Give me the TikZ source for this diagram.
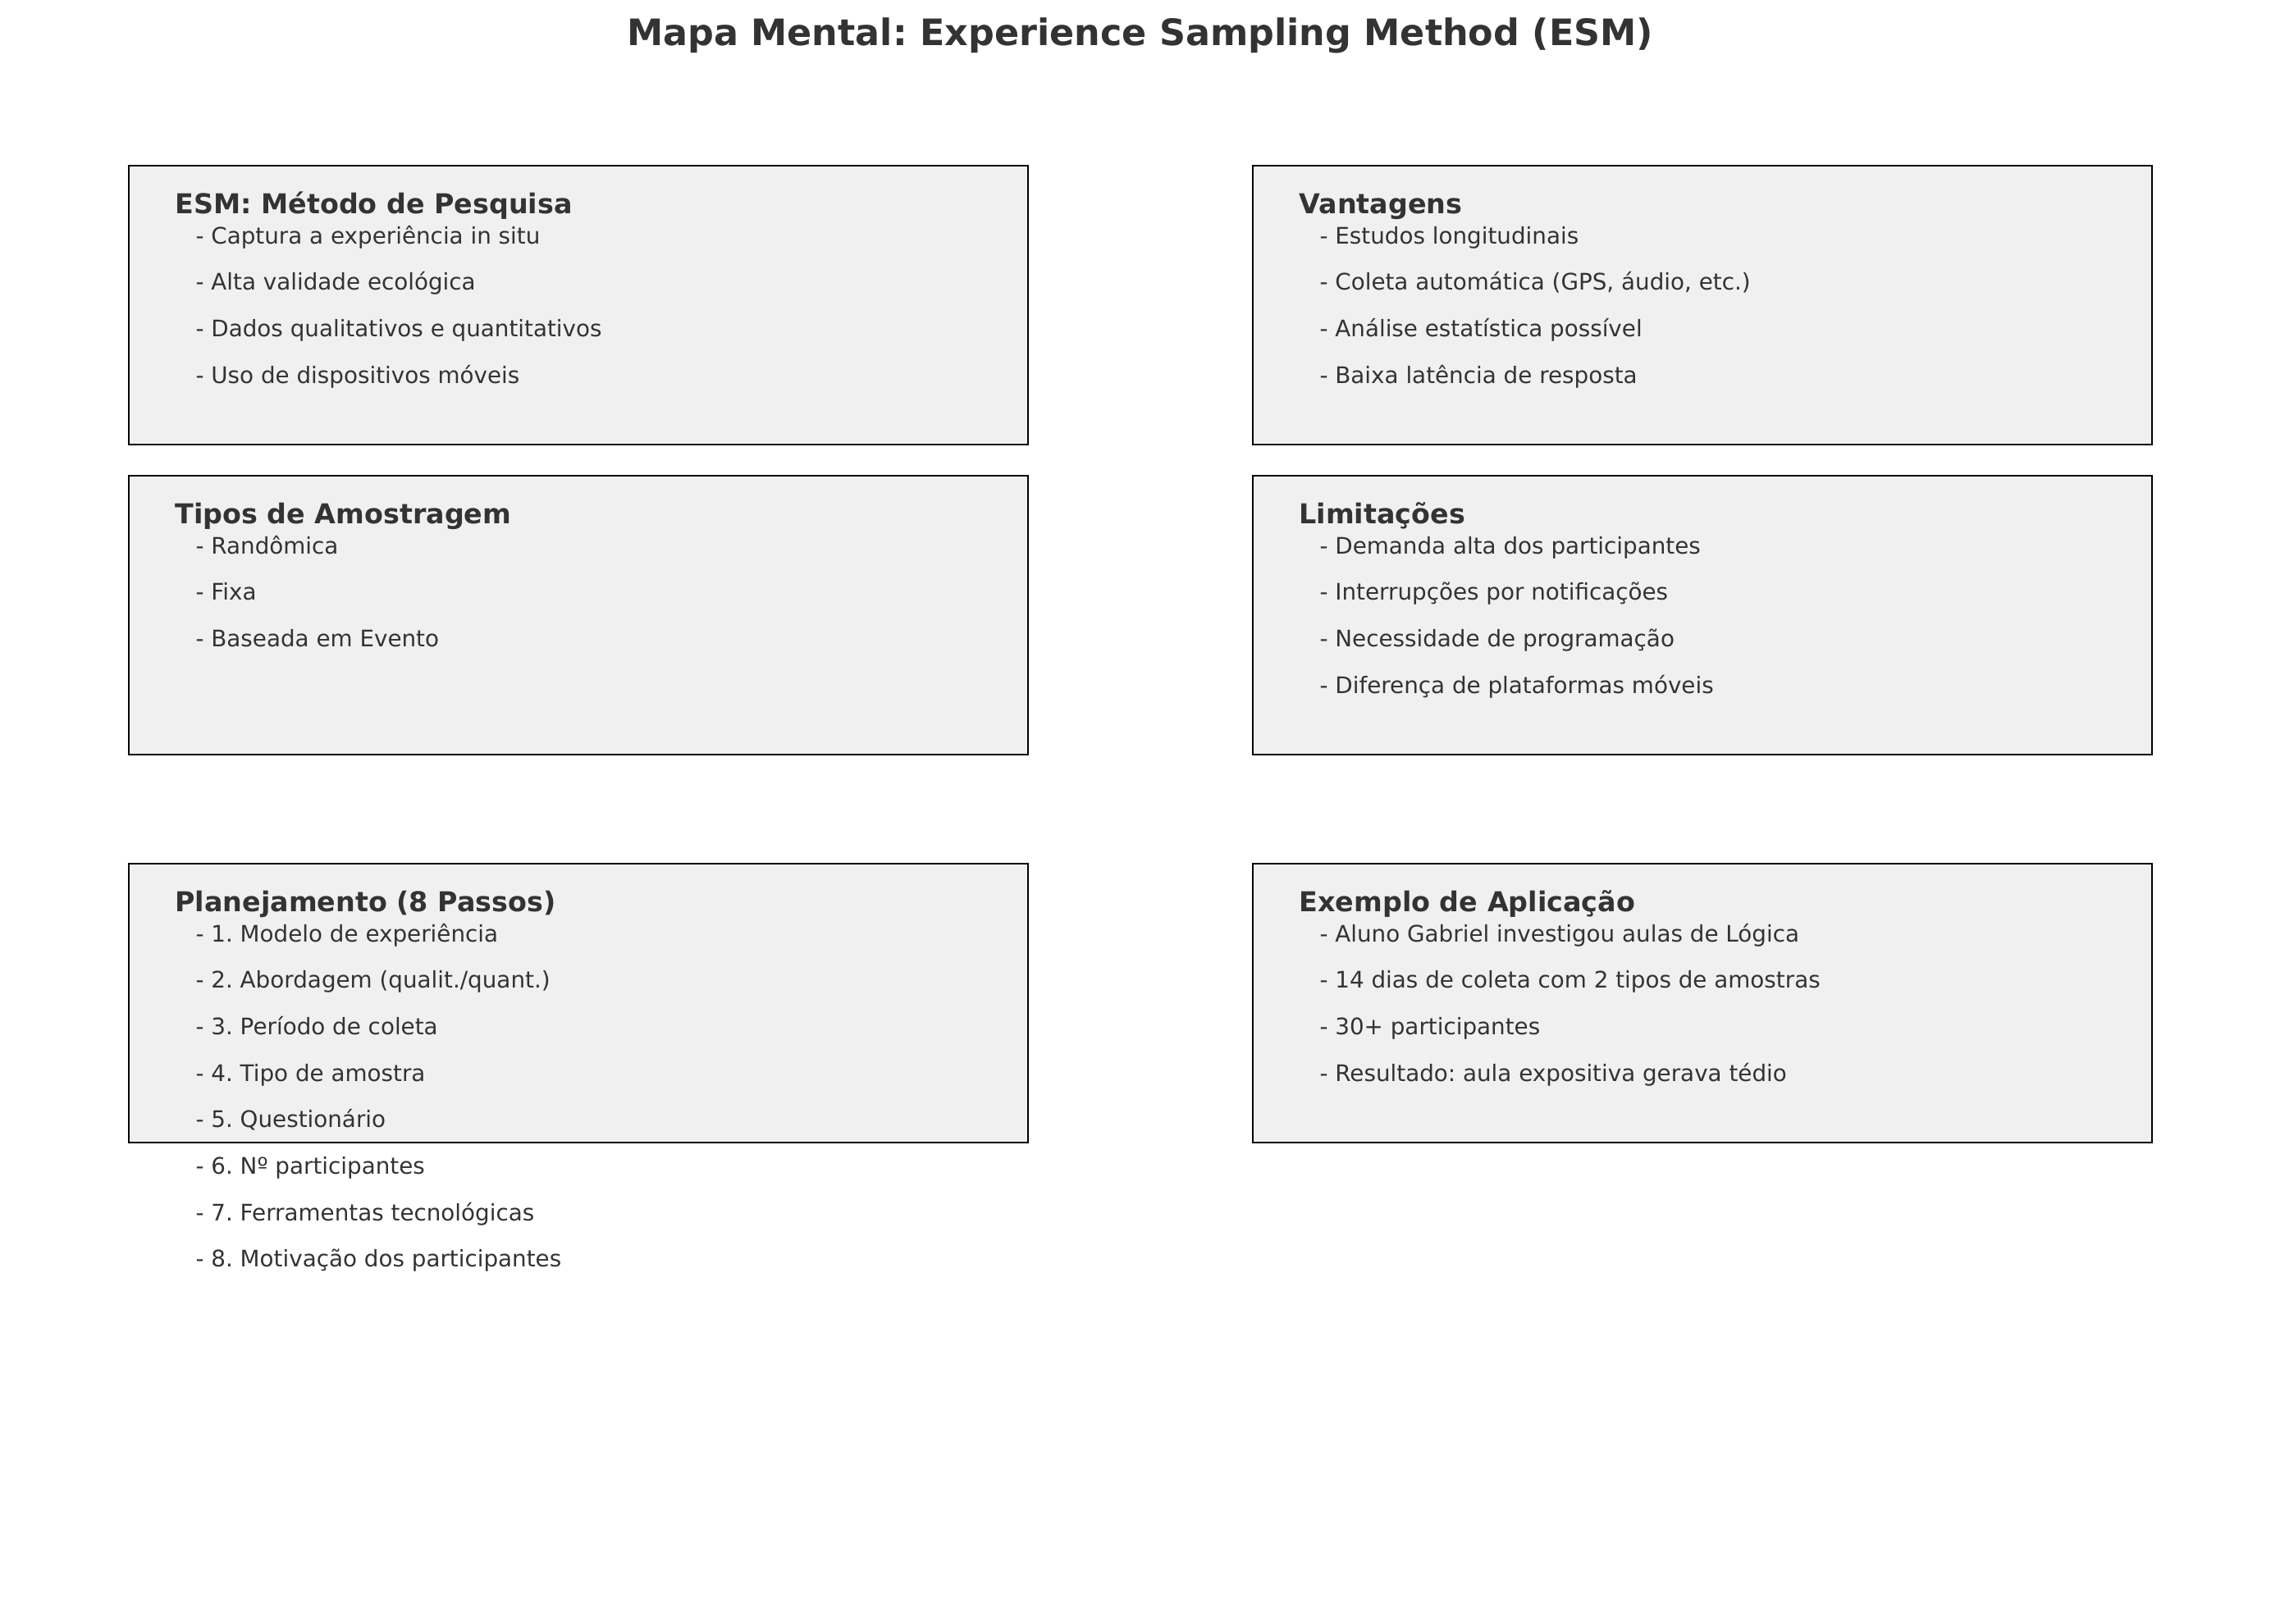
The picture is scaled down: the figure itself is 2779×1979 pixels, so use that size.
\documentclass[tikz,border=0pt]{standalone}
\usepackage{fontspec}
\setmainfont{DejaVu Sans}
\frenchspacing
\definecolor{txt}{HTML}{333333}
\definecolor{panelfill}{HTML}{F0F0F0}
\tikzset{
  panel/.style={draw=black, fill=panelfill, line width=1pt, outer sep=0pt, inner sep=0pt,
    minimum width=394.56pt, minimum height=122.4pt},
  head/.style={text=txt, font=\fontsize{12}{14}\selectfont\bfseries\frenchspacing, inner sep=0pt, anchor=base west},
  item/.style={text=txt, font=\fontsize{10}{12}\selectfont\frenchspacing, inner sep=0pt, anchor=base west},
  maintitle/.style={text=txt, font=\fontsize{16}{19}\selectfont\bfseries\frenchspacing, inner sep=0pt, anchor=base}
}
\newcommand\mmpanel[5]{%
  \node[panel, anchor=north west] (#1) at (#2,#3) {};
  \node[head] (#1-h) at (#2+56,#3+58) {#4};
  \foreach \t [count=\i] in {#5} {
    \node[item] (#1-\i) at (#2+81,#3+95+56.7*\i-56.7) {\t};
  }%
}
\begin{document}
\frenchspacing
\begin{tikzpicture}[x=0.36pt, y=-0.36pt]
\useasboundingbox (0,0) rectangle (2779,1979);
\node[maintitle] (title) at (1389.5,55) {Mapa Mental: Experience Sampling Method (ESM)};
\mmpanel{esm}{157}{202}{ESM: Método de Pesquisa}{- Captura a experiência in situ, - Alta validade ecológica, - Dados qualitativos e quantitativos, - Uso de dispositivos móveis}
\mmpanel{vant}{1527}{202}{Vantagens}{- Estudos longitudinais, {- Coleta automática (GPS, áudio, etc.)}, - Análise estatística possível, - Baixa latência de resposta}
\mmpanel{tipos}{157}{580}{Tipos de Amostragem}{- Randômica, - Fixa, - Baseada em Evento}
\mmpanel{lim}{1527}{580}{Limitações}{- Demanda alta dos participantes, - Interrupções por notificações, - Necessidade de programação, - Diferença de plataformas móveis}
\mmpanel{plan}{157}{1053}{Planejamento (8 Passos)}{- 1. Modelo de experiência, - 2. Abordagem (qualit./quant.), - 3. Período de coleta, - 4. Tipo de amostra, - 5. Questionário, - 6. Nº participantes, - 7. Ferramentas tecnológicas, - 8. Motivação dos participantes}
\mmpanel{ex}{1527}{1053}{Exemplo de Aplicação}{- Aluno Gabriel investigou aulas de Lógica, - 14 dias de coleta com 2 tipos de amostras, - 30+ participantes, - Resultado: aula expositiva gerava tédio}
\end{tikzpicture}
\end{document}
